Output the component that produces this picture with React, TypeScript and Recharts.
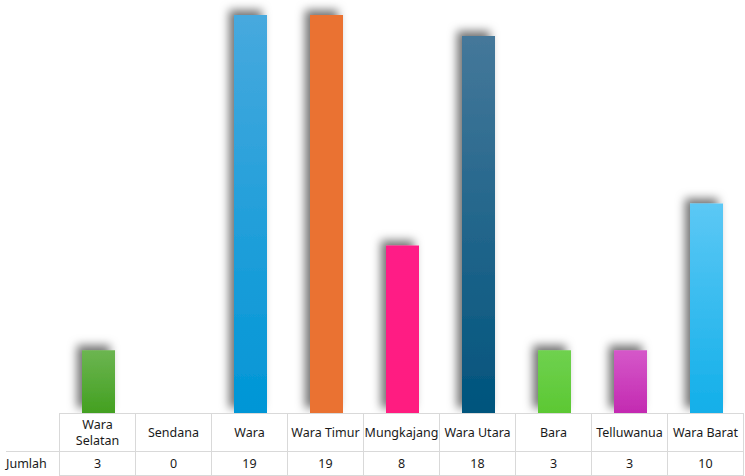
import { BarChart, Bar, Cell, XAxis, YAxis } from "recharts";

const categories = ["Wara Selatan", "Sendana", "Wara", "Wara Timur", "Mungkajang", "Wara Utara", "Bara", "Telluwanua", "Wara Barat"];
const jumlah = [3, 0, 19, 19, 8, 18, 3, 3, 10];
const rowLabel = "Jumlah";

// top / bottom colours of each bar gradient
const topColors = ["#6cb551", "#999999", "#47a9de", "#ea7233", "#ff1f87", "#45789a", "#6fd14f", "#d558c9", "#5cc8f5"];
const bottomColors = ["#43a020", "#999999", "#0096d6", "#ea7233", "#ff1a80", "#00547d", "#5cc833", "#c32ab1", "#12afe9"];

const chartData = categories.map((name, i) => ({ name, value: jumlah[i] }));

const FONT = "'Noto Sans', sans-serif";
const GRID = "#d9d9d9";

export default function App() {
  const cellStyle = {
    border: `1px solid ${GRID}`,
    textAlign: "center" as const,
    fontSize: 12.5,
    color: "#1a1a1a",
    padding: 0,
    width: 75,
  };
  return (
    <div style={{ position: "absolute", left: 0, top: 0, width: 745, height: 476, background: "#fff", fontFamily: FONT, overflow: "hidden" }}>
      <BarChart width={745} height={414} data={chartData} margin={{ top: 15, right: 1, left: 60, bottom: 1 }} barCategoryGap={0}>
        <defs>
          <filter id="shadow" x="-60%" y="-60%" width="220%" height="220%">
            <feDropShadow dx={-5} dy={-5} stdDeviation={5} floodColor="#000" floodOpacity={0.55} />
          </filter>
          {categories.map((_, i) => (
            <linearGradient key={i} id={`grad-${i}`} x1="0" y1="0" x2="0" y2="1">
              <stop offset="0%" stopColor={topColors[i]} />
              <stop offset="100%" stopColor={bottomColors[i]} />
            </linearGradient>
          ))}
        </defs>
        <XAxis dataKey="name" hide />
        <YAxis hide domain={[0, 19]} />
        <Bar dataKey="value" barSize={33} isAnimationActive={false}>
          {chartData.map((_, i) => (
            <Cell key={i} fill={`url(#grad-${i})`} filter="url(#shadow)" />
          ))}
        </Bar>
      </BarChart>
      <table style={{ position: "absolute", left: 6, top: 413, borderCollapse: "collapse", tableLayout: "fixed", fontFamily: FONT }}>
        <tbody>
          <tr style={{ height: 38 }}>
            <td style={{ width: 53, padding: 0, borderRight: `1px solid ${GRID}` }} />
            {categories.map((c) => (
              <td key={c} style={{ ...cellStyle, lineHeight: "16px" }}>
                {c === "Wara Selatan" ? (
                  <>
                    Wara
                    <br />
                    Selatan
                  </>
                ) : (
                  c
                )}
              </td>
            ))}
          </tr>
          <tr style={{ height: 24 }}>
            <td style={{ width: 53, padding: 0, fontSize: 12.5, color: "#1a1a1a", borderTop: `1px solid ${GRID}`, borderRight: `1px solid ${GRID}` }}>
              {rowLabel}
            </td>
            {jumlah.map((v, i) => (
              <td key={i} style={cellStyle}>
                {v}
              </td>
            ))}
          </tr>
        </tbody>
      </table>
    </div>
  );
}
